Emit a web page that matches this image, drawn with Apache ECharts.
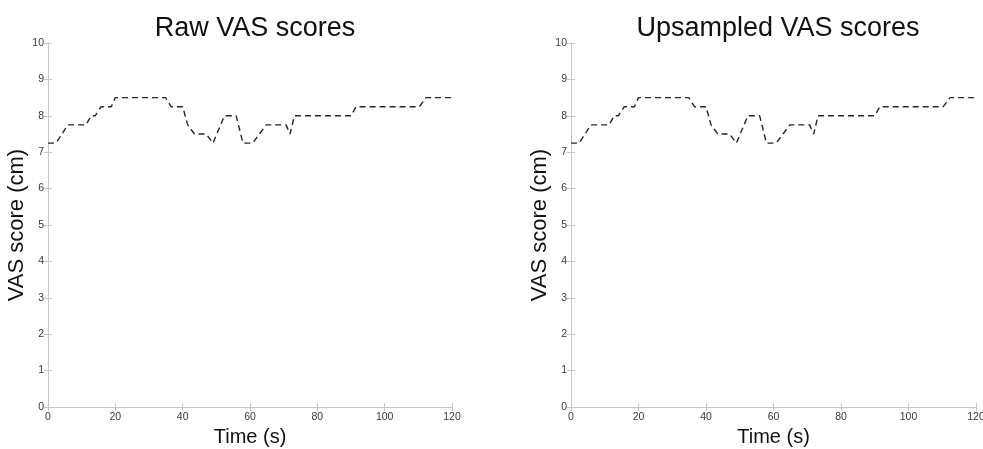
<!DOCTYPE html>
<html>
<head>
<meta charset="utf-8">
<script src="https://cdn.jsdelivr.net/npm/echarts@6/dist/echarts.min.js"></script>
<style>
html,body{margin:0;padding:0;background:#fff;}
#c{width:983px;height:449px;}
</style>
</head>
<body>
<div id="c"></div>
<script>
const titles = ['Raw VAS scores', 'Upsampled VAS scores'];
const xName = 'Time (s)';
const yName = 'VAS score (cm)';
const rawTime = [0, 2.4, 5.9, 11.3, 12.8, 14.0, 15.8, 18.8, 20.0, 34.9, 36.6, 40.0, 41.5, 43.5, 47.0, 49.0, 52.4, 55.9, 57.9, 60.8, 64.8, 70.7, 71.9, 73.2, 90.0, 91.5, 110.3, 112.3, 120];
const rawScore = [7.25, 7.25, 7.75, 7.75, 8.0, 8.0, 8.25, 8.25, 8.5, 8.5, 8.25, 8.25, 7.75, 7.5, 7.5, 7.25, 8.0, 8.0, 7.25, 7.25, 7.75, 7.75, 7.5, 8.0, 8.0, 8.25, 8.25, 8.5, 8.5];
const upTime = [0, 2.4, 5.9, 11.3, 12.8, 14.0, 15.8, 18.8, 20.0, 34.9, 36.6, 40.0, 41.5, 43.5, 47.0, 49.0, 52.4, 55.9, 57.9, 60.8, 64.8, 70.7, 71.9, 73.2, 90.0, 91.5, 110.3, 112.3, 120];
const upScore = [7.25, 7.25, 7.75, 7.75, 8.0, 8.0, 8.25, 8.25, 8.5, 8.5, 8.25, 8.25, 7.75, 7.5, 7.5, 7.25, 8.0, 8.0, 7.25, 7.25, 7.75, 7.75, 7.5, 8.0, 8.0, 8.25, 8.25, 8.5, 8.5];
const xTicks = [0, 20, 40, 60, 80, 100, 120];
const yTicks = [0, 1, 2, 3, 4, 5, 6, 7, 8, 9, 10];

const FONT = '"Liberation Sans", Arial, sans-serif';
const boxColor = '#c6c6c6';
const labelColor = '#3a3a3a';

const grids = [
  {left: 48, right: 531, top: 43, bottom: 42, outerBoundsMode: 'none', containLabel: false},
  {left: 571, right: 7, top: 43, bottom: 42, outerBoundsMode: 'none', containLabel: false}
];
const centers = [250, 773];

const xAxes = [], yAxes = [], series = [], title = [];
const datas = [[rawTime, rawScore], [upTime, upScore]];
grids.forEach((g, i) => {
  title.push({
    text: titles[i], left: centers[i], top: 10, textAlign: 'center',
    textStyle: {fontFamily: FONT, fontSize: 27, fontWeight: 'normal', color: '#111'}
  });
  const axLine = {show: true, lineStyle: {color: boxColor, width: 1}};
  const tick = {show: true, inside: true, length: 4, lineStyle: {color: boxColor}};
  xAxes.push({
    type: 'value', gridIndex: i, min: 0, max: 120, interval: 20, position: 'bottom',
    name: xName, nameLocation: 'middle', nameGap: 20,
    nameTextStyle: {fontFamily: FONT, fontSize: 20, color: '#111'},
    axisLine: axLine, axisTick: tick, splitLine: {show: false},
    axisLabel: {fontFamily: FONT, fontSize: 10.5, color: labelColor, margin: 5,
      formatter: v => xTicks.includes(v) ? String(v) : ''}
  });
  xAxes.push({
    type: 'value', gridIndex: i, min: 0, max: 120, interval: 20, position: 'top',
    axisLine: axLine, axisTick: tick, splitLine: {show: false}, axisLabel: {show: false}
  });
  yAxes.push({
    type: 'value', gridIndex: i, min: 0, max: 10, interval: 1, position: 'left',
    name: yName, nameLocation: 'middle', nameGap: 18,
    nameTextStyle: {fontFamily: FONT, fontSize: 22, color: '#111'},
    axisLine: axLine, axisTick: tick, splitLine: {show: false},
    axisLabel: {fontFamily: FONT, fontSize: 10.5, color: labelColor, margin: 4,
      formatter: v => yTicks.includes(v) ? String(v) : ''}
  });
  yAxes.push({
    type: 'value', gridIndex: i, min: 0, max: 10, interval: 1, position: 'right',
    axisLine: axLine, axisTick: tick, splitLine: {show: false}, axisLabel: {show: false}
  });
  const [t, s] = datas[i];
  series.push({
    type: 'line', xAxisIndex: i * 2, yAxisIndex: i * 2,
    data: t.map((x, k) => [x, s[k]]),
    showSymbol: false, symbol: 'none', animation: false,
    lineStyle: {color: '#262626', width: 1.4, type: [6, 4]}
  });
});

const chart = echarts.init(document.getElementById('c'), null, {renderer: 'canvas'});
chart.setOption({
  backgroundColor: '#fff',
  animation: false,
  title, grid: grids, xAxis: xAxes, yAxis: yAxes, series
});
</script>
</body>
</html>
